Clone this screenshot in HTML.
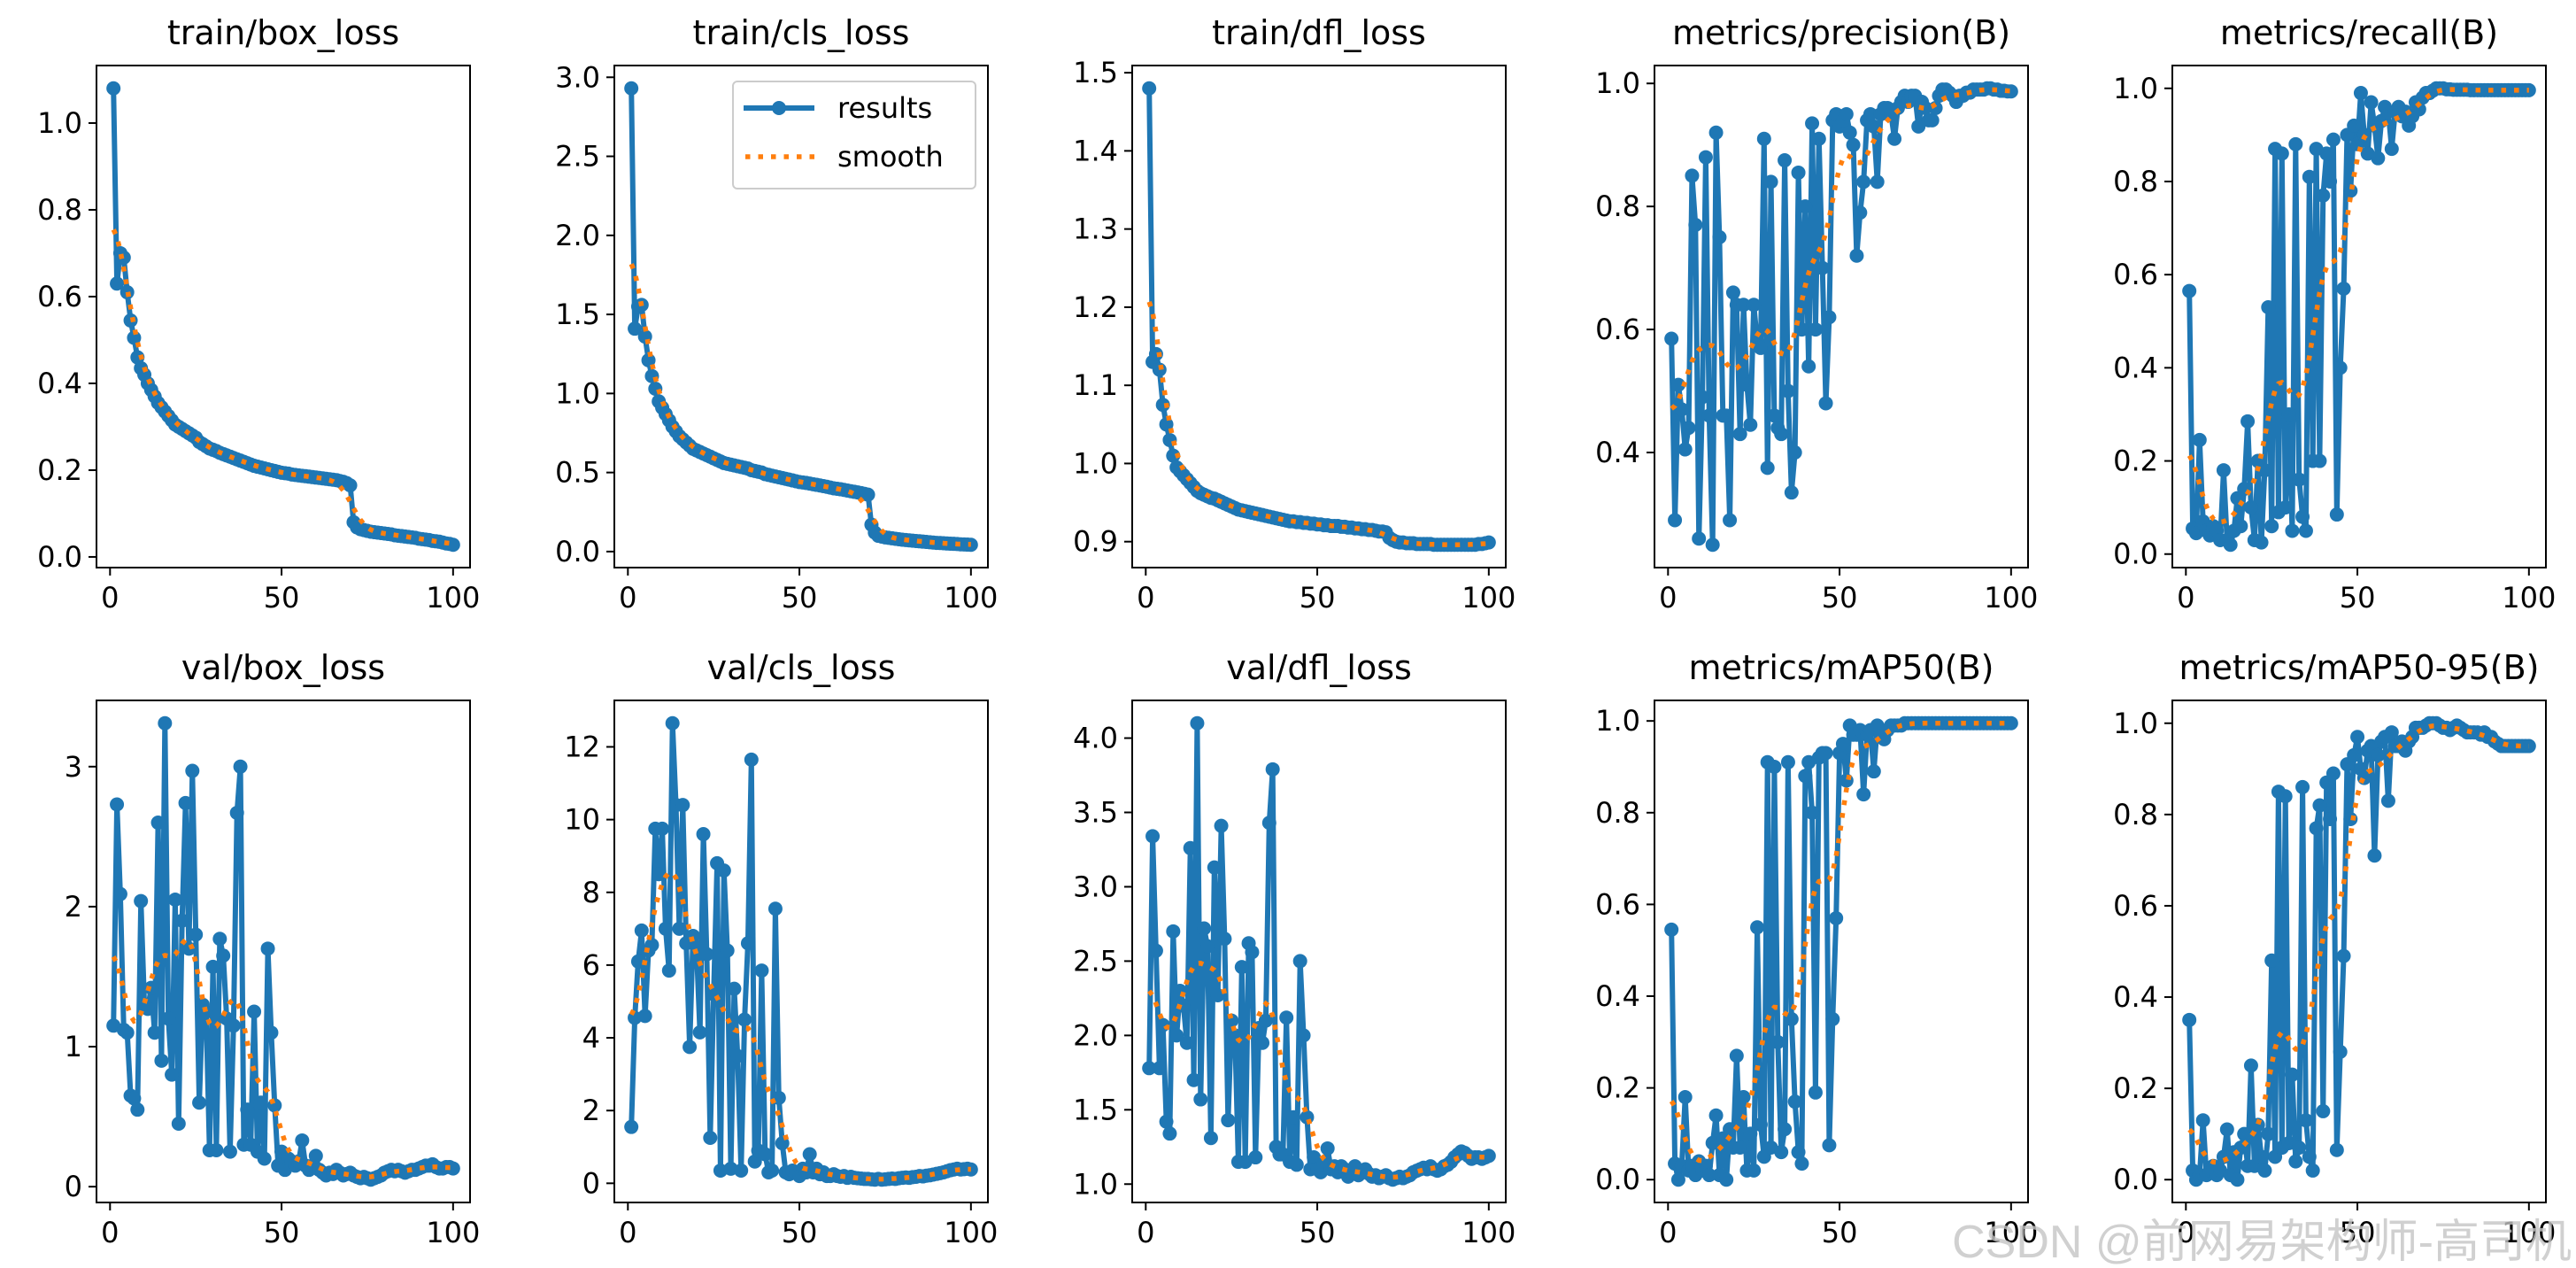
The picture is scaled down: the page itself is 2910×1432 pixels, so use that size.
<!DOCTYPE html>
<html><head><meta charset="utf-8"><style>
html,body{margin:0;padding:0;background:#fff;}
svg{display:block;}
text{font-family:"DejaVu Sans","Liberation Sans",sans-serif;fill:#000;}
</style></head>
<body>
<svg id="fig" width="2910" height="1432" viewBox="0 0 2910 1432" xmlns="http://www.w3.org/2000/svg">
<rect width="2910" height="1432" fill="#fff"/>
</svg>
<script>
const epochs = Array.from({length:100},(_,i)=>i+1);
const xTicks = [0,50,100];
const xTickLabels = ["0","50","100"];

const trainBox = [1.08,0.63,0.70,0.69,0.61,0.545,0.505,0.46,0.435,0.42,0.40,0.385,0.37,0.355,0.345,0.335,0.325,0.315,0.305,0.30,0.295,0.29,0.285,0.28,0.275,0.265,0.26,0.255,0.25,0.247,0.244,0.24,0.237,0.234,0.231,0.228,0.225,0.222,0.219,0.216,0.213,0.21,0.208,0.206,0.204,0.202,0.20,0.198,0.196,0.194,0.193,0.192,0.19,0.189,0.188,0.187,0.186,0.185,0.184,0.183,0.182,0.181,0.18,0.179,0.178,0.177,0.175,0.173,0.17,0.165,0.08,0.068,0.064,0.062,0.06,0.058,0.057,0.056,0.055,0.054,0.053,0.052,0.05,0.049,0.048,0.047,0.046,0.045,0.044,0.042,0.041,0.04,0.039,0.037,0.036,0.035,0.033,0.031,0.03,0.028];
const trainCls = [2.93,1.41,1.55,1.56,1.36,1.21,1.11,1.03,0.95,0.91,0.87,0.83,0.79,0.76,0.73,0.71,0.69,0.67,0.65,0.64,0.63,0.62,0.61,0.60,0.59,0.58,0.57,0.56,0.555,0.55,0.545,0.54,0.535,0.53,0.525,0.515,0.51,0.505,0.50,0.49,0.485,0.48,0.475,0.47,0.465,0.46,0.455,0.45,0.445,0.44,0.437,0.434,0.43,0.426,0.422,0.418,0.414,0.41,0.405,0.40,0.397,0.394,0.39,0.386,0.382,0.378,0.374,0.37,0.365,0.36,0.17,0.12,0.10,0.095,0.09,0.087,0.084,0.081,0.078,0.075,0.073,0.071,0.069,0.067,0.065,0.063,0.061,0.059,0.057,0.055,0.054,0.053,0.051,0.05,0.049,0.048,0.046,0.045,0.044,0.043];
const trainDfl = [1.48,1.13,1.14,1.12,1.075,1.05,1.03,1.01,0.995,0.99,0.985,0.98,0.975,0.97,0.965,0.962,0.96,0.958,0.956,0.955,0.953,0.951,0.949,0.947,0.945,0.943,0.941,0.94,0.939,0.938,0.937,0.936,0.935,0.934,0.933,0.932,0.931,0.93,0.929,0.928,0.927,0.926,0.926,0.925,0.925,0.924,0.924,0.923,0.923,0.922,0.922,0.921,0.921,0.92,0.92,0.92,0.919,0.919,0.918,0.918,0.917,0.917,0.916,0.916,0.915,0.915,0.914,0.913,0.913,0.912,0.905,0.902,0.90,0.899,0.899,0.898,0.898,0.898,0.897,0.897,0.897,0.897,0.897,0.896,0.896,0.896,0.896,0.896,0.896,0.896,0.896,0.896,0.896,0.896,0.896,0.896,0.897,0.897,0.898,0.899];
const precision = [0.585,0.29,0.51,0.47,0.405,0.44,0.85,0.77,0.26,0.49,0.88,0.46,0.25,0.92,0.75,0.46,0.46,0.29,0.66,0.64,0.43,0.64,0.51,0.445,0.64,0.58,0.57,0.91,0.375,0.84,0.46,0.44,0.43,0.875,0.50,0.335,0.40,0.855,0.60,0.80,0.54,0.935,0.60,0.91,0.70,0.48,0.62,0.94,0.95,0.93,0.94,0.95,0.92,0.90,0.72,0.79,0.84,0.94,0.95,0.93,0.84,0.95,0.96,0.96,0.95,0.91,0.96,0.97,0.98,0.97,0.98,0.98,0.93,0.97,0.96,0.94,0.94,0.96,0.98,0.99,0.99,0.985,0.98,0.97,0.98,0.98,0.985,0.985,0.99,0.99,0.99,0.99,0.992,0.992,0.99,0.99,0.988,0.988,0.987,0.987];
const recall = [0.565,0.055,0.045,0.245,0.07,0.05,0.04,0.06,0.05,0.03,0.18,0.03,0.02,0.05,0.12,0.06,0.14,0.285,0.10,0.03,0.20,0.025,0.18,0.53,0.06,0.87,0.09,0.86,0.10,0.30,0.05,0.88,0.16,0.08,0.05,0.81,0.20,0.87,0.20,0.77,0.86,0.80,0.89,0.085,0.40,0.57,0.90,0.78,0.92,0.88,0.99,0.90,0.86,0.97,0.92,0.85,0.93,0.96,0.95,0.87,0.95,0.96,0.94,0.95,0.92,0.94,0.97,0.955,0.98,0.99,0.99,0.995,1.0,1.0,1.0,0.998,0.998,0.997,0.997,0.997,0.997,0.997,0.996,0.996,0.996,0.996,0.996,0.996,0.996,0.996,0.996,0.996,0.996,0.996,0.996,0.996,0.996,0.996,0.996,0.996];
const valBox = [1.15,2.73,2.09,1.12,1.10,0.65,0.63,0.55,2.04,1.30,1.27,1.42,1.10,2.60,0.90,3.31,1.20,0.80,2.05,0.45,1.90,2.74,1.70,2.97,1.80,0.60,1.30,1.25,0.26,1.57,0.26,1.77,1.65,1.20,0.25,1.15,2.67,3.00,0.30,0.55,0.30,1.25,0.25,0.60,0.20,1.70,1.10,0.58,0.15,0.25,0.12,0.20,0.18,0.15,0.18,0.33,0.15,0.12,0.15,0.22,0.12,0.10,0.08,0.10,0.09,0.12,0.10,0.08,0.09,0.10,0.08,0.07,0.06,0.07,0.06,0.05,0.06,0.07,0.08,0.10,0.11,0.12,0.11,0.12,0.11,0.10,0.11,0.12,0.12,0.13,0.14,0.15,0.15,0.16,0.14,0.13,0.13,0.14,0.14,0.13];
const valCls = [1.55,4.55,6.1,6.95,4.6,6.4,6.55,9.75,8.5,9.75,7.0,5.85,12.65,10.4,7.0,10.4,6.6,3.75,6.8,6.5,4.15,9.6,6.3,1.25,5.2,8.8,0.35,8.6,6.4,0.4,5.35,3.5,0.35,4.5,6.6,11.65,0.6,0.9,5.85,0.8,0.3,0.35,7.55,2.35,1.1,0.3,0.25,0.35,0.3,0.2,0.4,0.3,0.8,0.3,0.4,0.25,0.3,0.2,0.2,0.25,0.2,0.18,0.2,0.15,0.18,0.15,0.14,0.13,0.12,0.12,0.11,0.1,0.12,0.1,0.11,0.12,0.13,0.12,0.14,0.15,0.16,0.15,0.17,0.18,0.2,0.19,0.21,0.22,0.24,0.26,0.28,0.3,0.33,0.36,0.38,0.4,0.38,0.39,0.4,0.38];
const valDfl = [1.78,3.34,2.57,1.78,2.07,1.42,1.34,2.70,2.0,2.3,2.2,1.95,3.26,1.7,4.10,1.57,2.72,2.6,1.31,3.13,2.27,3.41,2.65,1.43,2.1,2.0,1.15,2.46,1.15,2.62,2.56,1.18,2.05,1.95,2.1,3.43,3.79,1.25,1.20,1.2,2.12,1.15,1.45,1.13,2.50,2.0,1.45,1.10,1.18,1.10,1.08,1.13,1.24,1.10,1.12,1.08,1.12,1.10,1.05,1.08,1.12,1.06,1.08,1.10,1.07,1.05,1.06,1.04,1.05,1.06,1.04,1.03,1.04,1.05,1.04,1.05,1.06,1.08,1.09,1.10,1.11,1.10,1.12,1.10,1.09,1.10,1.12,1.13,1.15,1.18,1.20,1.22,1.21,1.19,1.17,1.18,1.18,1.17,1.18,1.19];
const map50 = [0.545,0.035,0.0,0.03,0.18,0.02,0.03,0.01,0.04,0.02,0.03,0.01,0.08,0.14,0.01,0.09,0.0,0.11,0.07,0.27,0.07,0.18,0.02,0.10,0.02,0.55,0.12,0.05,0.91,0.07,0.90,0.30,0.06,0.11,0.91,0.35,0.17,0.06,0.035,0.88,0.91,0.80,0.19,0.92,0.93,0.93,0.075,0.35,0.57,0.93,0.95,0.87,0.99,0.97,0.97,0.98,0.84,0.97,0.98,0.89,0.99,0.97,0.96,0.98,0.99,0.99,0.99,0.99,0.995,0.995,0.995,0.995,0.995,0.995,0.995,0.995,0.995,0.995,0.995,0.995,0.995,0.995,0.995,0.995,0.995,0.995,0.995,0.995,0.995,0.995,0.995,0.995,0.995,0.995,0.995,0.995,0.995,0.995,0.995,0.995];
const map5095 = [0.35,0.02,0.0,0.01,0.13,0.01,0.02,0.03,0.01,0.02,0.05,0.11,0.01,0.06,0.0,0.07,0.10,0.03,0.25,0.03,0.12,0.05,0.02,0.10,0.48,0.05,0.85,0.07,0.84,0.08,0.23,0.04,0.07,0.86,0.13,0.05,0.02,0.77,0.82,0.15,0.87,0.79,0.89,0.065,0.28,0.49,0.91,0.79,0.93,0.97,0.90,0.88,0.94,0.95,0.71,0.93,0.96,0.97,0.83,0.98,0.95,0.95,0.96,0.94,0.96,0.97,0.99,0.99,0.99,0.995,1.0,1.0,1.0,0.995,0.99,0.99,0.985,0.99,0.995,0.99,0.985,0.98,0.98,0.98,0.98,0.975,0.98,0.97,0.97,0.96,0.955,0.95,0.95,0.95,0.95,0.95,0.95,0.95,0.95,0.95];

const ticksLoss1 = [0,0.2,0.4,0.6,0.8,1.0];
const labelsLoss1 = ["0.0","0.2","0.4","0.6","0.8","1.0"];
const ticksCls = [0,0.5,1.0,1.5,2.0,2.5,3.0];
const labelsCls = ["0.0","0.5","1.0","1.5","2.0","2.5","3.0"];
const ticksDfl = [0.9,1.0,1.1,1.2,1.3,1.4,1.5];
const labelsDfl = ["0.9","1.0","1.1","1.2","1.3","1.4","1.5"];
const ticksPrec = [0.4,0.6,0.8,1.0];
const labelsPrec = ["0.4","0.6","0.8","1.0"];
const ticksUnit = [0,0.2,0.4,0.6,0.8,1.0];
const labelsUnit = ["0.0","0.2","0.4","0.6","0.8","1.0"];
const ticksVBox = [0,1,2,3];
const labelsVBox = ["0","1","2","3"];
const ticksVCls = [0,2,4,6,8,10,12];
const labelsVCls = ["0","2","4","6","8","10","12"];
const ticksVDfl = [1.0,1.5,2.0,2.5,3.0,3.5,4.0];
const labelsVDfl = ["1.0","1.5","2.0","2.5","3.0","3.5","4.0"];

const titles = ["train/box_loss","train/cls_loss","train/dfl_loss","metrics/precision(B)","metrics/recall(B)","val/box_loss","val/cls_loss","val/dfl_loss","metrics/mAP50(B)","metrics/mAP50-95(B)"];
const series = [trainBox,trainCls,trainDfl,precision,recall,valBox,valCls,valDfl,map50,map5095];
const yTickSets = [ticksLoss1,ticksCls,ticksDfl,ticksPrec,ticksUnit,ticksVBox,ticksVCls,ticksVDfl,ticksUnit,ticksUnit];
const yLabelSets = [labelsLoss1,labelsCls,labelsDfl,labelsPrec,labelsUnit,labelsVBox,labelsVCls,labelsVDfl,labelsUnit,labelsUnit];

function gaussSmooth(y, sigma){
  const r = Math.round(4*sigma), w=[]; let s=0;
  for(let k=-r;k<=r;k++){const v=Math.exp(-k*k/(2*sigma*sigma)); w.push(v); s+=v;}
  const n=y.length;
  const idx=i=>{ while(i<0||i>=n){ if(i<0) i=-i-1; if(i>=n) i=2*n-i-1; } return i; };
  return y.map((_,i)=>{let a=0; for(let k=-r;k<=r;k++) a+=w[k+r]*y[idx(i+k)]; return a/s;});
}

const NS="http://www.w3.org/2000/svg";
const svg=document.getElementById('fig');
function mk(tag,attrs,parent){const e=document.createElementNS(NS,tag); for(const k in attrs) e.setAttribute(k,attrs[k]); (parent||svg).appendChild(e); return e;}

const colLeft=[109,694,1279,1869,2454];
const rowTop=[74,791];
const AW=422, AH=567;
const slug=t=>t.toLowerCase().replace(/[^a-z0-9]+/g,'-').replace(/^-|-$/g,'');

series.forEach((ys,p)=>{
  const L=colLeft[p%5], T=rowTop[Math.floor(p/5)], R=L+AW, B=T+AH;
  const sm=gaussSmooth(ys,3);
  const all=ys.concat(sm);
  let mn=Math.min(...all), mx=Math.max(...all); const pad=(mx-mn)*0.05; mn-=pad; mx+=pad;
  const xmin=1-99*0.05, xmax=100+99*0.05;
  const X=v=>L+(v-xmin)/(xmax-xmin)*AW;
  const Y=v=>B-(v-mn)/(mx-mn)*AH;
  const g=mk('g',{});
  
  
  const t=mk('text',{x:L+AW/2,y:T-24,'text-anchor':'middle','font-size':'38'},g);
  t.textContent=titles[p];
  
  
  xTicks.forEach((v,i)=>{
    mk('line',{x1:X(v),x2:X(v),y1:B,y2:B+9,stroke:'#000','stroke-width':'2'},g);
    const tx=mk('text',{x:X(v),y:B+45,'text-anchor':'middle','font-size':'32'},g);
    tx.textContent=xTickLabels[i];
    
    
  });
  yTickSets[p].forEach((v,i)=>{
    if(v<mn||v>mx) return;
    mk('line',{x1:L-9,x2:L,y1:Y(v),y2:Y(v),stroke:'#000','stroke-width':'2'},g);
    const ty=mk('text',{x:L-16,y:Y(v)+11,'text-anchor':'end','font-size':'32'},g);
    ty.textContent=yLabelSets[p][i];
    
    
  });
  const clipId='c'+p;
  const cp=mk('clipPath',{id:clipId},g); mk('rect',{x:L,y:T,width:AW,height:AH},cp);
  const pts=ys.map((v,i)=>X(epochs[i]).toFixed(1)+','+Y(v).toFixed(1)).join(' ');
  const line=mk('polyline',{points:pts,fill:'none',stroke:'#1f77b4','stroke-width':'6','stroke-linejoin':'round'},g);
  
  
  ys.forEach((v,i)=>{
    const c=mk('circle',{cx:X(epochs[i]),cy:Y(v),r:'8',fill:'#1f77b4'},g);
    
    
  });
  const spts=sm.map((v,i)=>X(epochs[i]).toFixed(1)+','+Y(v).toFixed(1)).join(' ');
  const sl=mk('polyline',{points:spts,fill:'none',stroke:'#ff7f0e','stroke-width':'5.5','stroke-dasharray':'5.5 9'},g);
  
  
  const fr=mk('rect',{x:L,y:T,width:AW,height:AH,fill:'none',stroke:'#000','stroke-width':'2'},g);
  
  
});

const lg=mk('g',{});


mk('rect',{x:828,y:92,width:274,height:121,rx:5,fill:'#fff','fill-opacity':'0.8',stroke:'#ccc','stroke-width':'2'},lg);
mk('line',{x1:840,x2:920,y1:122,y2:122,stroke:'#1f77b4','stroke-width':'6'},lg);
mk('circle',{cx:880,cy:122,r:'8',fill:'#1f77b4'},lg);
const l1=mk('text',{x:946,y:133,'font-size':'32'},lg); l1.textContent='results';


mk('line',{x1:842,x2:920,y1:177,y2:177,stroke:'#ff7f0e','stroke-width':'5.5','stroke-dasharray':'5.5 9'},lg);
const l2=mk('text',{x:946,y:188,'font-size':'32'},lg); l2.textContent='smooth';



const wm=mk('text',{x:2905,y:1420,'text-anchor':'end','font-size':'52'});
wm.setAttribute('style','font-family:"Liberation Sans","Noto Sans CJK SC",sans-serif;fill:#c4c4c4;fill-opacity:0.8;');
wm.textContent='CSDN @前网易架构师-高司机';


</script>
</body></html>
